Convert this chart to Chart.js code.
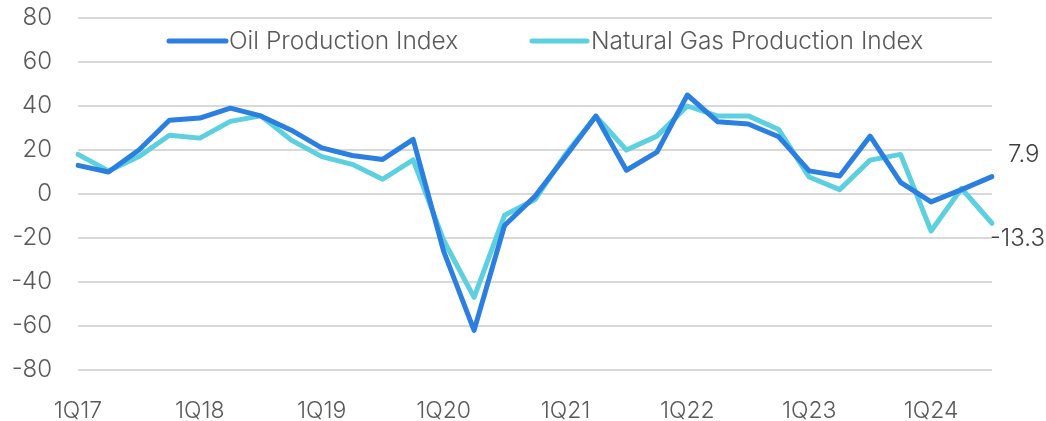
<!DOCTYPE html>
<html>
<head>
<meta charset="utf-8">
<script src="https://cdn.jsdelivr.net/npm/chart.js@4/dist/chart.umd.min.js"></script>
<style>
  html, body { margin: 0; padding: 0; background: #ffffff; }
  #wrap { width: 1046px; height: 421px; position: relative; }
</style>
</head>
<body>
<div id="wrap"><canvas id="c" width="1046" height="421"></canvas></div>
<script>
const quarters = ['1Q17','2Q17','3Q17','4Q17','1Q18','2Q18','3Q18','4Q18','1Q19','2Q19','3Q19','4Q19',
  '1Q20','2Q20','3Q20','4Q20','1Q21','2Q21','3Q21','4Q21','1Q22','2Q22','3Q22','4Q22',
  '1Q23','2Q23','3Q23','4Q23','1Q24','2Q24','3Q24'];
const oilIndex = [13, 10, 20, 33.5, 34.5, 39, 35.5, 29, 21, 17.5, 15.7, 24.8, -26, -62, -14.3, -1, 17, 35.4, 10.8, 19, 45, 32.8, 31.8, 26, 10.5, 8.2, 26.3, 5.3, -3.6, 2, 7.9];
const gasIndex = [18, 10.5, 17, 26.7, 25.4, 33, 35.5, 24.5, 17, 13.5, 6.7, 15.5, -21, -47, -9.7, -2.5, 18, 35.4, 20, 26.3, 40, 35.4, 35.5, 29.3, 7.7, 2, 15.4, 18, -16.8, 2.5, -13.3];
const seriesNames = ['Oil Production Index', 'Natural Gas Production Index'];
const yTicks = [-80, -60, -40, -20, 0, 20, 40, 60, 80];

const OIL = '#2b7fe0';
const GAS = '#5dd0df';
const TEXT = '#595959';
const FONT = 'Inter, "Open Sans", sans-serif';

const overlayPlugin = {
  id: 'overlay',
  afterDatasetsDraw(chart) {
    const ctx = chart.ctx;
    ctx.save();
    const items = [
      { x0: 169, x1: 226, tx: 229 },
      { x0: 532, x1: 587, tx: 591 }
    ];
    chart.data.datasets.forEach((ds, i) => {
      const it = items[i];
      const y = 41;
      ctx.strokeStyle = ds.borderColor;
      ctx.lineWidth = 5;
      ctx.lineCap = 'round';
      ctx.beginPath();
      ctx.moveTo(it.x0, y);
      ctx.lineTo(it.x1, y);
      ctx.stroke();
      ctx.fillStyle = TEXT;
      ctx.font = '300 24.5px ' + FONT;
      ctx.textAlign = 'left';
      ctx.textBaseline = 'middle';
      ctx.fillText(ds.label, it.tx, y + 1);
    });
    const offs = [{ dx: 16, dy: -22 }, { dx: -2, dy: 16 }];
    chart.data.datasets.forEach((ds, i) => {
      const meta = chart.getDatasetMeta(i);
      const last = meta.data[meta.data.length - 1];
      const v = ds.data[ds.data.length - 1];
      ctx.fillStyle = '#404040';
      ctx.font = '300 24px ' + FONT;
      ctx.textAlign = 'left';
      ctx.textBaseline = 'middle';
      ctx.fillText(v.toFixed(1), last.x + offs[i].dx, last.y + offs[i].dy);
    });
    ctx.restore();
  }
};

new Chart(document.getElementById('c'), {
  type: 'line',
  data: {
    labels: quarters,
    datasets: [
      { label: seriesNames[0], data: oilIndex, borderColor: OIL, backgroundColor: OIL, borderWidth: 5, pointRadius: 0, tension: 0, borderJoinStyle: 'round', borderCapStyle: 'round' },
      { label: seriesNames[1], data: gasIndex, borderColor: GAS, backgroundColor: GAS, borderWidth: 5, pointRadius: 0, tension: 0, borderJoinStyle: 'round', borderCapStyle: 'round' }
    ]
  },
  options: {
    responsive: false,
    animation: false,
    layout: { padding: { top: 18, right: 54, left: 0, bottom: 0 } },
    plugins: { legend: { display: false }, tooltip: { enabled: false } },
    scales: {
      x: {
        offset: false,
        grid: { display: false, drawTicks: false },
        border: { display: false },
        ticks: {
          autoSkip: false, maxRotation: 0, minRotation: 0, padding: 27,
          color: TEXT, font: { family: FONT, size: 23, weight: '300' },
          callback: function(val, idx) { return idx % 4 === 0 ? quarters[idx] : ''; }
        },
        afterFit(scale) { scale.height = 51; scale.paddingLeft = 0; scale.paddingRight = 0; }
      },
      y: {
        min: -80, max: 80,
        afterBuildTicks(scale) { scale.ticks = yTicks.map(v => ({ value: v })); },
        grid: { color: '#d9d9d9', lineWidth: 2, drawTicks: false },
        border: { display: false },
        ticks: { padding: 26, color: TEXT, font: { family: FONT, size: 24, weight: '300' } },
        afterFit(scale) { scale.width = 78; scale.paddingTop = 0; scale.paddingBottom = 0; }
      }
    }
  },
  plugins: [overlayPlugin]
});
</script>
</body>
</html>
